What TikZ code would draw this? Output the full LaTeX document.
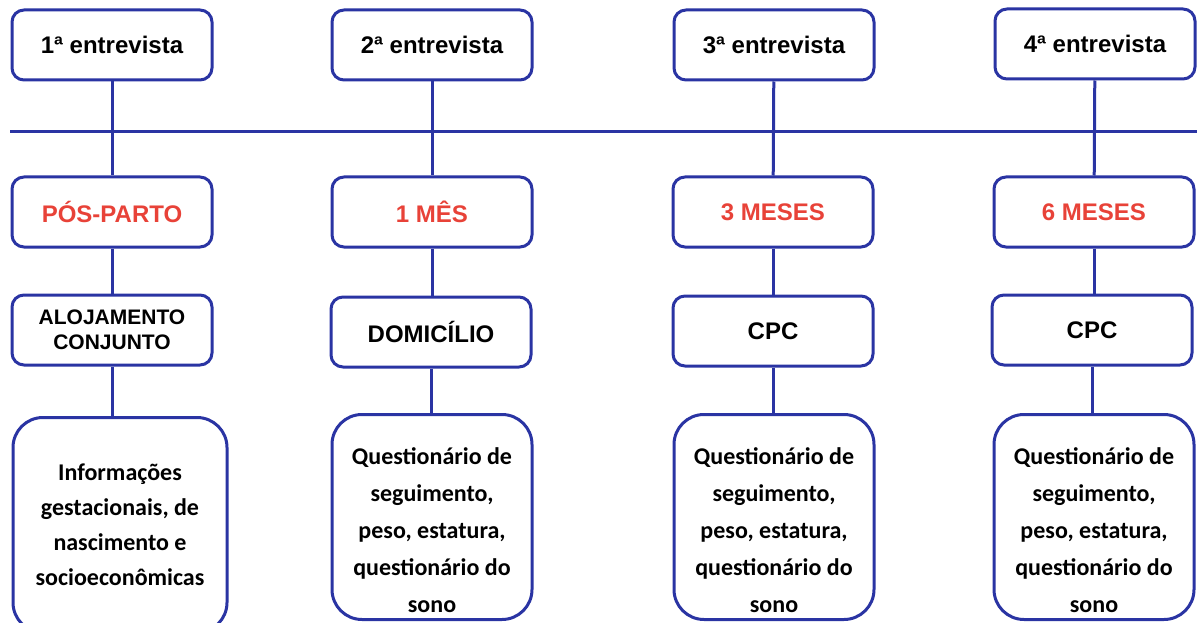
\documentclass[tikz,border=0pt]{standalone}
\usepackage{fontspec}
\setmainfont{Liberation Sans}
\newfontfamily\calibri{Carlito}
\usepackage{xcolor}
\definecolor{azul}{RGB}{42,52,163}
\definecolor{vermelho}{RGB}{232,66,56}
\newcommand{\desce}{\rule{0pt}{43pt}}
\tikzset{
	caixa/.style={draw=azul, line width=3pt, rounded corners=12pt, fill=white,
		minimum width=200pt, minimum height=70pt, align=center, inner sep=2pt,
		font=\bfseries\fontsize{24}{28}\selectfont},
	periodo/.style={caixa, text=vermelho},
	info/.style={draw=azul, line width=3pt, rounded corners=30pt, fill=white,
		minimum width=200pt, minimum height=205pt, align=center, inner sep=2pt,
		font=\calibri\bfseries\fontsize{24}{37}\selectfont},
	linha/.style={azul, line width=3pt}
}

\begin{document}
\begin{tikzpicture}[x=1pt, y=-1pt]
		\clip (0,0) rectangle (1197,623);
		\useasboundingbox (0,0) rectangle (1197,623);
		% linha do tempo
		\coordinate (esq) at (10,132);
		\coordinate (dir) at (1197,132);
		\draw [linha] (esq) -- (dir);
		% entrevistas
		\node [caixa] (ent1) at (112,45) {1ª entrevista};
		\node [caixa] (ent2) at (432,45) {2ª entrevista};
		\node [caixa] (ent3) at (774,45) {3ª entrevista};
		\node [caixa] (ent4) at (1095,44) {4ª entrevista};
		% periodos
		\node [periodo] (per1) at (112,212) {PÓS-PARTO};
		\node [periodo] (per2) at (432,212) {1 MÊS};
		\node [periodo] (per3) at (773,212) {3 MESES};
		\node [periodo] (per4) at (1094,212) {6 MESES};
		% locais
		\node [caixa, font=\bfseries\fontsize{21}{25}\selectfont] (loc1) at (112,330) {ALOJAMENTO\\CONJUNTO};
		\node [caixa] (loc2) at (431,332) {DOMICÍLIO};
		\node [caixa] (loc3) at (773,331) {CPC};
		\node [caixa] (loc4) at (1092,330) {CPC};
		% informacoes
		\node [info, minimum width=214pt, minimum height=215pt,
			font=\calibri\bfseries\fontsize{24}{35}\selectfont] (inf1) at (120,525)
			{Informações\\gestacionais, de\\nascimento e\\socioeconômicas};
		\node [info] (inf2) at (432,517)
			{\desce Questionário de\\seguimento,\\peso, estatura,\\questionário do\\sono};
		\node [info] (inf3) at (774,517)
			{\desce Questionário de\\seguimento,\\peso, estatura,\\questionário do\\sono};
		\node [info] (inf4) at (1094,517)
			{\desce Questionário de\\seguimento,\\peso, estatura,\\questionário do\\sono};
		% ligacoes
		\draw [linha] (ent1) -- (per1);
		\draw [linha] (ent2) -- (per2);
		\draw [linha] (ent3) -- (per3);
		\draw [linha] (ent4) -- (per4);
		\draw [linha] (per1) -- (loc1);
		\draw [linha] (per2) -- (per2 |- loc2.north);
		\draw [linha] (per3) -- (loc3);
		\draw [linha] (per4.south) -- (per4.south |- loc4.north);
		\draw [linha] (loc1.south) -- (loc1.south |- inf1.north);
		\draw [linha] (loc2.south) -- (loc2.south |- inf2.north);
		\draw [linha] (loc3.south) -- (loc3.south |- inf3.north);
		\draw [linha] (loc4.south) -- (loc4.south |- inf4.north);
\end{tikzpicture}
\end{document}
